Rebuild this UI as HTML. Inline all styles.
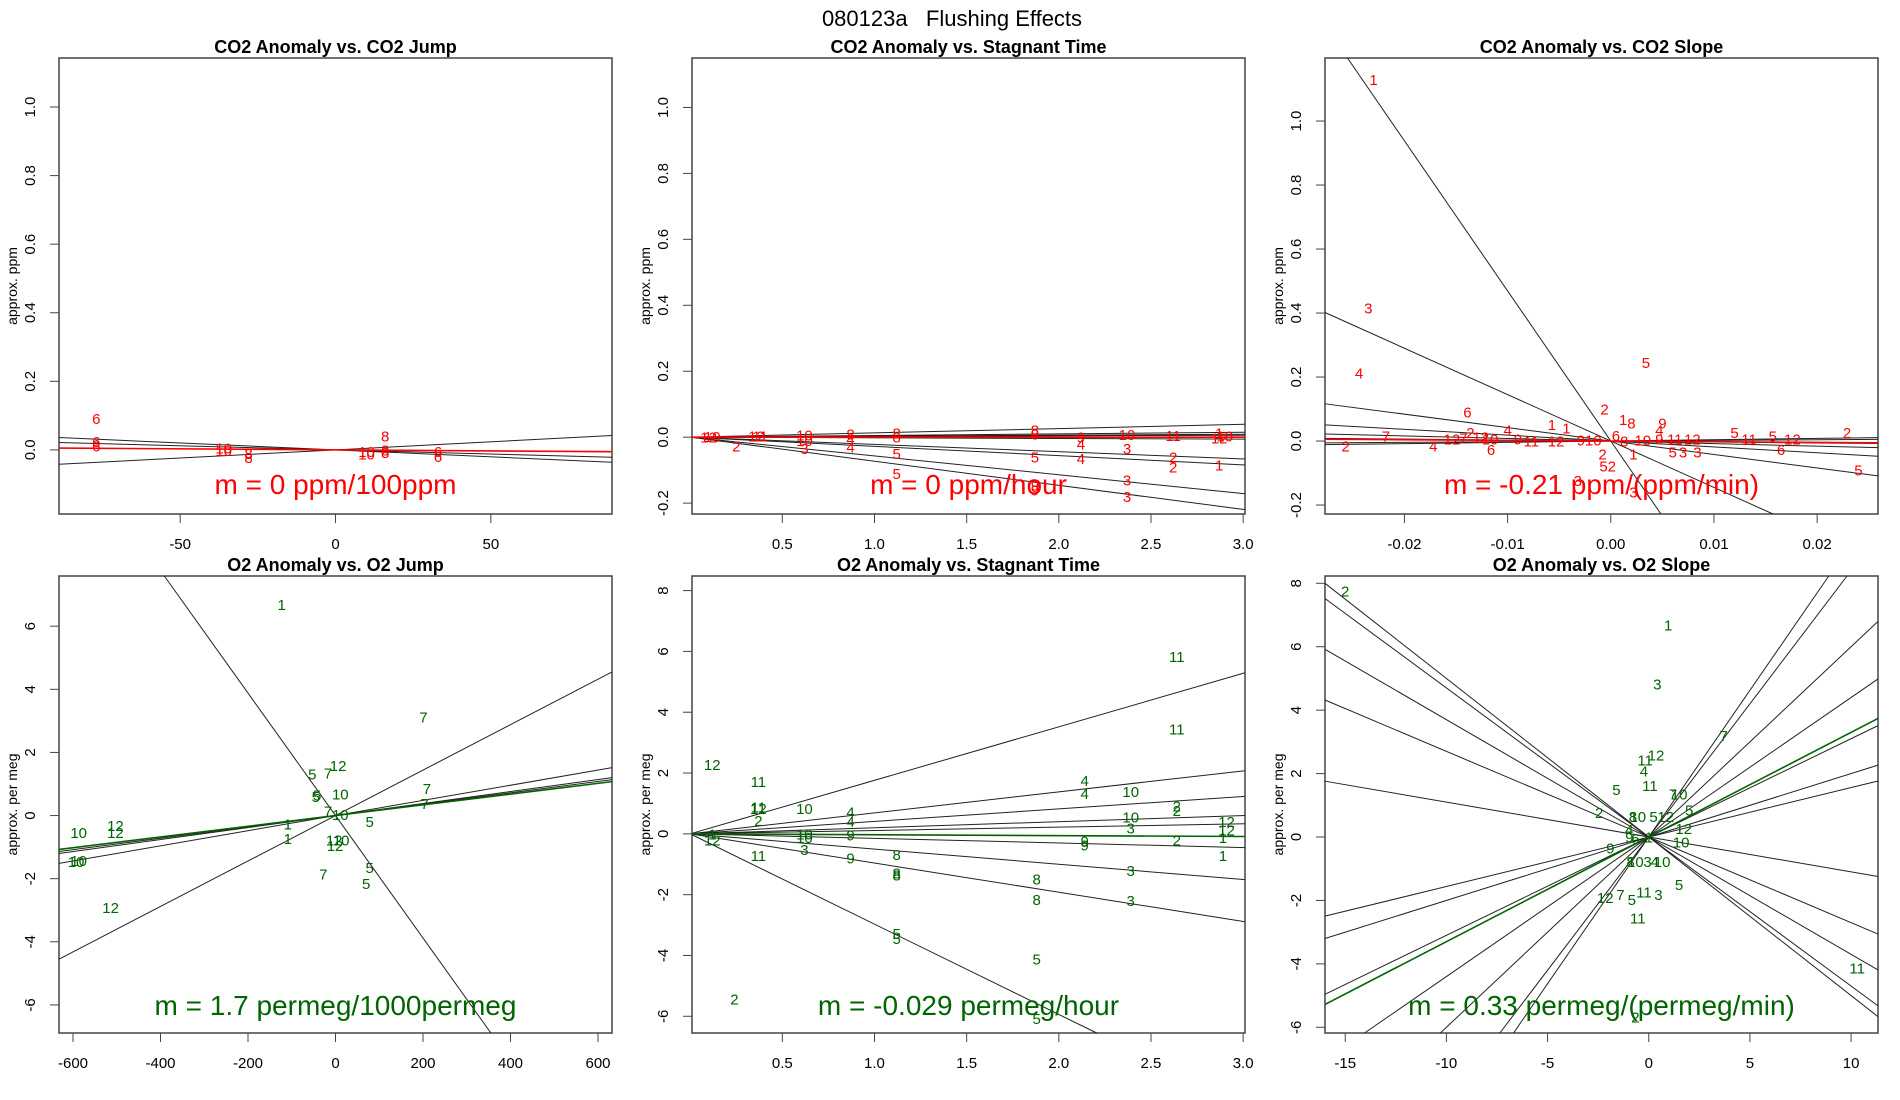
<!DOCTYPE html>
<html><head><meta charset="utf-8"><style>
html,body{margin:0;padding:0;background:#fff;overflow:hidden;width:1900px;height:1100px}
svg{display:block;font-family:"Liberation Sans",sans-serif}
</style></head><body>
<svg id="chart" width="1900" height="1100" viewBox="0 0 1900 1100" overflow="hidden">
<text x="952" y="26" font-size="22" text-anchor="middle" xml:space="preserve" style="white-space:pre">080123a   Flushing Effects</text>
</svg>
<script>
// ---------- data arrays ----------
// Panel 1: CO2 Anomaly vs CO2 Jump
const p1Slopes = [-0.000404, -0.000242, 0.000472];
const p1FitSlope = -0.00006;
const p1LabelText = ["6","6","6","10","10","8","8","10","10","8","8","8","6","6"];
const p1LabelX = [-77,-77,-77,-36,-36,-28,-28,10,10,16,16,16,33,33];
const p1LabelY = [0.092,0.025,0.012,0.005,-0.002,-0.01,-0.022,-0.004,-0.012,0.04,0.0,-0.008,-0.004,-0.02];
const p1XTicks = [-50,0,50];
const p1YTicks = [0,0.2,0.4,0.6,0.8,1.0];

// Panel 2: CO2 Anomaly vs Stagnant Time
const p2Slopes = [0.013,0.005,0.003,0.002,-0.002,-0.022,-0.028,-0.057,-0.073];
const p2FitSlope = 0;
const p2LabelText = ["12","10","2","12","11","10","10","3","8","4","4","8","8","5","5","8","8","5","9","9","9","4","4","10","3","3","3","11","2","2","1","12","1","10"];
const p2LabelX = [0.1,0.12,0.25,0.36,0.38,0.62,0.62,0.62,0.87,0.87,0.87,1.12,1.12,1.12,1.12,1.87,1.87,1.87,1.87,1.87,2.12,2.12,2.12,2.37,2.37,2.37,2.37,2.62,2.62,2.62,2.87,2.87,2.87,2.9];
const p2LabelY = [0.0,0.002,-0.027,0.003,0.003,0.006,-0.01,-0.035,0.01,-0.006,-0.03,0.012,0.0,-0.05,-0.11,0.022,0.01,-0.06,-0.145,-0.16,0.0,-0.02,-0.065,0.008,-0.035,-0.13,-0.18,0.005,-0.06,-0.09,0.013,-0.002,-0.085,0.004];
const p2XTicks = [0.5,1.0,1.5,2.0,2.5,3.0];
const p2YTicks = [-0.2,0,0.2,0.4,0.6,0.8,1.0];

// Panel 3: CO2 Anomaly vs CO2 Slope
const p3Slopes = [-46.9,-14.5,-4.2,-1.83,-0.8,-0.3,0.2,0.41];
const p3FitSlope = -0.21;
const p3LabelText = ["1","3","4","5","6","2","1","8","9","4","1","1","2","2","7","4","2","4","6","5","11","5","12","6","5","3","5","3","1","2","5","2","3","3","12","12","10","7","9","11","12","9","10","6","8","10","11","12","9"];
const p3LabelX = [-0.023,-0.0235,-0.0244,0.0034,-0.0139,-0.0006,0.0012,0.002,0.005,0.0047,-0.0057,-0.0043,0.0229,-0.0257,-0.0218,-0.0172,-0.0136,-0.01,-0.0116,0.012,0.0134,0.0157,0.0176,0.0165,0.024,0.0084,0.006,0.007,0.0022,-0.0008,-0.0007,0.0001,-0.0032,0.0022,-0.0154,-0.0126,-0.0117,-0.0143,-0.009,-0.0077,-0.0053,-0.0029,-0.0017,0.0005,0.0013,0.0031,0.0062,0.0079,0.0047];
const p3LabelY = [1.13,0.415,0.213,0.246,0.09,0.1,0.067,0.056,0.056,0.034,0.052,0.041,0.026,-0.015,0.015,-0.015,0.026,0.034,-0.026,0.026,0.007,0.015,0.007,-0.026,-0.09,-0.034,-0.034,-0.034,-0.041,-0.041,-0.078,-0.078,-0.123,-0.16,0.007,0.012,0.007,0.01,0.007,0.0,0.0,0.003,0.003,0.018,0.0,0.003,0.007,0.007,0.007];
const p3XTicks = [-0.02,-0.01,0.0,0.01,0.02];
const p3XTickLabels = ["-0.02","-0.01","0.00","0.01","0.02"];
const p3YTicks = [-0.2,0,0.2,0.4,0.6,0.8,1.0];

// Panel 4: O2 Anomaly vs O2 Jump
const p4Slopes = [-0.0194,0.0072,0.0024,0.0019,0.0018];
const p4FitSlope = 0.0017;
const p4LabelText = ["1","7","7","7","5","7","12","5","5","10","10","7","1","1","5","12","12","10","7","5","5","10","10","10","12","12","12"];
const p4LabelX = [-123,201,209,204,-53,-17,6,-42,-45,11,11,-17,-109,-109,78,-3,-1,13,-28,78,70,-587,-587,-593,-503,-503,-514];
const p4LabelY = [6.69,3.12,0.85,0.38,1.31,1.35,1.58,0.65,0.6,0.69,0.04,0.15,-0.27,-0.73,-0.19,-0.77,-0.95,-0.77,-1.85,-1.65,-2.15,-0.54,-1.42,-1.46,-0.31,-0.54,-2.92];
const p4XTicks = [-600,-400,-200,0,200,400,600];
const p4YTicks = [-6,-4,-2,0,2,4,6];

// Panel 5: O2 Anomaly vs Stagnant Time
const p5Slopes = [1.76,0.69,0.41,0.2,0.11,-0.15,-0.5,-0.96,-2.97];
const p5FitSlope = -0.029;
const p5LabelText = ["12","11","11","12","2","10","4","4","10","10","9","9","3","11","1","12","2","8","8","8","5","5","4","4","10","10","3","9","9","3","3","8","8","5","5","11","11","2","2","2","12","12","1","1"];
const p5LabelX = [0.12,0.37,0.37,0.37,0.37,0.62,0.87,0.87,0.62,0.62,0.87,0.87,0.62,0.37,0.12,0.12,0.24,1.12,1.12,1.12,1.12,1.12,2.14,2.14,2.39,2.39,2.39,2.14,2.14,2.39,2.39,1.88,1.88,1.88,1.88,2.64,2.64,2.64,2.64,2.64,2.91,2.91,2.89,2.89];
const p5LabelY = [2.28,1.72,0.88,0.84,0.44,0.84,0.72,0.4,0.0,-0.12,-0.04,-0.8,-0.52,-0.72,0.0,-0.2,-5.44,-0.68,-1.28,-1.36,-3.28,-3.44,1.76,1.32,1.4,0.56,0.2,-0.24,-0.36,-1.2,-2.2,-1.48,-2.16,-4.12,-6.08,5.84,3.44,0.92,0.76,-0.2,0.4,0.12,-0.12,-0.72];
const p5XTicks = [0.5,1.0,1.5,2.0,2.5,3.0];
const p5YTicks = [-6,-4,-2,0,2,4,6,8];

// Panel 6: O2 Anomaly vs O2 Slope
const p6Slopes = [-0.5,-0.47,-0.37,-0.27,-0.11,0.156,0.2,0.31,0.44,0.6,0.84,0.925];
const p6FitSlope = 0.33;
const p6LabelText = ["2","1","3","7","12","11","4","5","11","2","10","7","5","12","9","5","12","7","5","11","3","11","2","11","8","10","5","12","8","10","3","4","10","10","6","9","4","1"];
const p6LabelX = [-15,0.96,0.42,3.7,0.36,-0.18,-0.24,-1.6,0.06,-2.45,1.5,1.2,2.0,1.73,-1.9,1.5,-2.15,-1.4,-0.84,-0.24,0.48,-0.54,-0.66,10.3,-0.78,-0.54,0.24,0.84,-0.9,-0.66,-0.06,0.3,0.66,1.6,-0.66,-0.96,-0.96,0.0];
const p6LabelY = [7.76,6.68,4.83,3.2,2.59,2.43,2.08,1.5,1.62,0.77,1.35,1.35,0.85,0.27,-0.35,-1.5,-1.9,-1.82,-1.97,-1.74,-1.81,-2.55,-5.68,-4.13,0.65,0.65,0.65,0.65,-0.77,-0.77,-0.77,-0.77,-0.77,-0.15,-0.04,0.0,0.23,0.0];
const p6XTicks = [-15,-10,-5,0,5,10];
const p6YTicks = [-6,-4,-2,0,2,4,6,8];

// ---------- drawing ----------
const NS = "http://www.w3.org/2000/svg";
const svg = document.getElementById("chart");
function mk(tag, attrs, parent) {
  const e = document.createElementNS(NS, tag);
  for (const k in attrs) e.setAttribute(k, attrs[k]);
  (parent || svg).appendChild(e);
  return e;
}
function fmt(v, dec) { return v.toFixed(dec); }

// segment of y = m*x inside the box, starting at xStart
function clipLine(m, xStart, xd, yd) {
  let lo = Math.max(xStart, xd[0]), hi = xd[1];
  if (m !== 0) {
    const a = yd[0] / m, b = yd[1] / m;
    lo = Math.max(lo, Math.min(a, b));
    hi = Math.min(hi, Math.max(a, b));
  }
  return [lo, hi];
}

function drawPanel(o) {
  const g = mk("g", {});
  
  
  const L = o.left, T = o.top, W = 553, H = o.h, B = T + H;
  const sx = v => L + (v - o.xd[0]) / (o.xd[1] - o.xd[0]) * W;
  const sy = v => B - (v - o.yd[0]) / (o.yd[1] - o.yd[0]) * H;

  const title = mk("text", {x: L + W / 2, y: T - 5, "font-size": 18, "font-weight": "bold", "text-anchor": "middle"}, g);
  title.textContent = o.title;
  
  

  const frame = mk("rect", {x: L, y: T, width: W, height: H, fill: "none", stroke: "#444", "stroke-width": 1.5}, g);
  
  

  o.xt.forEach((v, i) => {
    const x = sx(v);
    const t = mk("line", {x1: x, y1: B, x2: x, y2: B + 9, stroke: "#444", "stroke-width": 1}, g);
    
    
    const tl = mk("text", {x: x, y: B + 35, "font-size": 15, "text-anchor": "middle"}, g);
    tl.textContent = o.xl ? o.xl[i] : (o.xdec !== undefined ? fmt(v, o.xdec) : String(v));
    
    
  });
  o.yt.forEach(v => {
    const y = sy(v);
    const t = mk("line", {x1: L - 9, y1: y, x2: L, y2: y, stroke: "#444", "stroke-width": 1}, g);
    
    
    const tl = mk("text", {x: 0, y: 0, "font-size": 15, "text-anchor": "middle", transform: `translate(${L - 24},${y}) rotate(-90)`}, g);
    tl.textContent = o.ydec !== undefined ? fmt(v, o.ydec) : String(v);
    
    
  });
  const yt = mk("text", {x: 0, y: 0, "font-size": 14, "text-anchor": "middle", transform: `translate(${L - 42},${T + H / 2}) rotate(-90)`}, g);
  yt.textContent = o.ylab;
  
  

  const xa = o.fromZero ? 0 : o.xd[0];
  o.slopes.forEach(m => {
    const [p, q] = clipLine(m, xa, o.xd, o.yd);
    if (q <= p) return;
    const ln = mk("line", {x1: sx(p), y1: sy(m * p), x2: sx(q), y2: sy(m * q), stroke: "#222", "stroke-width": 1}, g);
    
    
  });
  const [fp, fq] = clipLine(o.fit, xa, o.xd, o.yd);
  const fl = mk("line", {x1: sx(fp), y1: sy(o.fit * fp), x2: sx(fq), y2: sy(o.fit * fq), stroke: o.color, "stroke-width": 1.6}, g);
  
  
  o.lt.forEach((s, i) => {
    const t = mk("text", {x: sx(o.lx[i]), y: sy(o.ly[i]) + 5.5, "font-size": 15, fill: o.color, "text-anchor": "middle"}, g);
    t.textContent = s;
    
    
  });
  const mt = mk("text", {x: L + W / 2, y: o.mtY, "font-size": 28, fill: o.color, "text-anchor": "middle"}, g);
  mt.textContent = o.mtext;
  
  
}

const RED = "#ff0000", GREEN = "#006400";
drawPanel({name: "panel-co2-jump", left: 59, top: 58, h: 456, xd: [-89, 89], yd: [-0.187, 1.143], xt: p1XTicks, yt: p1YTicks, ydec: 1,
  slopes: p1Slopes, fit: p1FitSlope, lt: p1LabelText, lx: p1LabelX, ly: p1LabelY, color: RED, title: "CO2 Anomaly vs. CO2 Jump",
  ylab: "approx. ppm", mtext: "m = 0 ppm/100ppm", mtY: 494});
drawPanel({name: "panel-co2-stagnant", left: 692, top: 58, h: 456, xd: [0.01, 3.01], yd: [-0.233, 1.15], xt: p2XTicks, xdec: 1, yt: p2YTicks, ydec: 1,
  slopes: p2Slopes, fit: p2FitSlope, fromZero: true, lt: p2LabelText, lx: p2LabelX, ly: p2LabelY, color: RED, title: "CO2 Anomaly vs. Stagnant Time",
  ylab: "approx. ppm", mtext: "m = 0 ppm/hour", mtY: 494});
drawPanel({name: "panel-co2-slope", left: 1325, top: 58, h: 456, xd: [-0.0277, 0.0259], yd: [-0.228, 1.197], xt: p3XTicks, xl: p3XTickLabels, yt: p3YTicks, ydec: 1,
  slopes: p3Slopes, fit: p3FitSlope, lt: p3LabelText, lx: p3LabelX, ly: p3LabelY, color: RED, title: "CO2 Anomaly vs. CO2 Slope",
  ylab: "approx. ppm", mtext: "m = -0.21 ppm/(ppm/min)", mtY: 494});
drawPanel({name: "panel-o2-jump", left: 59, top: 576, h: 457, xd: [-632, 632], yd: [-6.89, 7.59], xt: p4XTicks, yt: p4YTicks,
  slopes: p4Slopes, fit: p4FitSlope, lt: p4LabelText, lx: p4LabelX, ly: p4LabelY, color: GREEN, title: "O2 Anomaly vs. O2 Jump",
  ylab: "approx. per meg", mtext: "m = 1.7 permeg/1000permeg", mtY: 1015});
drawPanel({name: "panel-o2-stagnant", left: 692, top: 576, h: 457, xd: [0.01, 3.01], yd: [-6.55, 8.48], xt: p5XTicks, xdec: 1, yt: p5YTicks,
  slopes: p5Slopes, fit: p5FitSlope, fromZero: true, lt: p5LabelText, lx: p5LabelX, ly: p5LabelY, color: GREEN, title: "O2 Anomaly vs. Stagnant Time",
  ylab: "approx. per meg", mtext: "m = -0.029 permeg/hour", mtY: 1015});
drawPanel({name: "panel-o2-slope", left: 1325, top: 576, h: 457, xd: [-16, 11.33], yd: [-6.18, 8.23], xt: p6XTicks, yt: p6YTicks,
  slopes: p6Slopes, fit: p6FitSlope, lt: p6LabelText, lx: p6LabelX, ly: p6LabelY, color: GREEN, title: "O2 Anomaly vs. O2 Slope",
  ylab: "approx. per meg", mtext: "m = 0.33 permeg/(permeg/min)", mtY: 1015});
</script>
</body></html>
